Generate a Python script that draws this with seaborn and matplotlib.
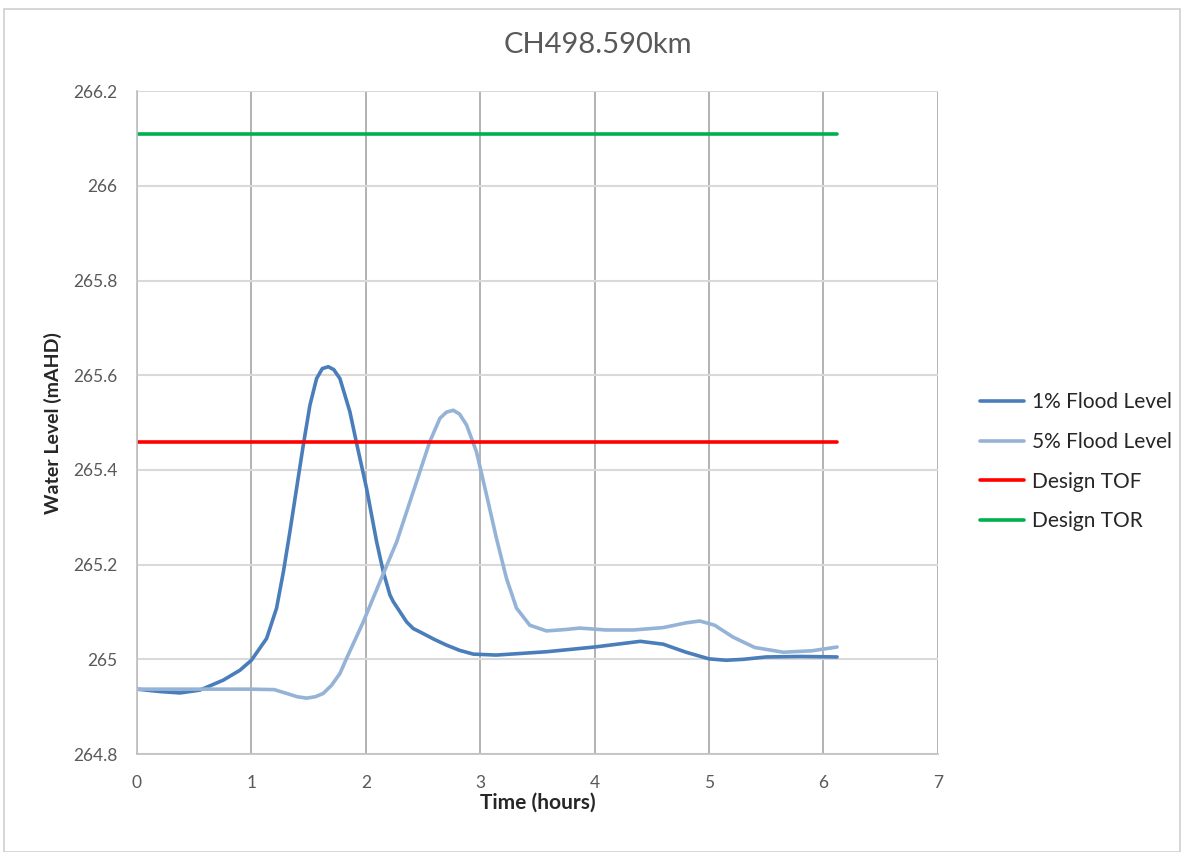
import matplotlib
matplotlib.use("Agg")
import matplotlib.pyplot as plt
import seaborn as sns
import pandas as pd
from matplotlib.patches import Rectangle

# ---- data ----
t_1pct = [0, 0.2, 0.376, 0.55, 0.754, 0.9, 1.0, 1.133, 1.22, 1.28, 1.337, 1.395,
          1.454, 1.512, 1.57, 1.62, 1.672, 1.72, 1.774, 1.861, 1.92, 2.007, 2.095,
          2.153, 2.211, 2.24, 2.357, 2.415, 2.473, 2.6, 2.706, 2.82, 2.94, 3.14,
          3.58, 4.0, 4.2, 4.4, 4.6, 4.8, 5.0, 5.15, 5.3, 5.5, 5.8, 6.12]
y_1pct = [264.937, 264.932, 264.929, 264.935, 264.956, 264.977, 264.998, 265.044,
          265.108, 265.185, 265.27, 265.361, 265.453, 265.537, 265.593, 265.614,
          265.618, 265.612, 265.593, 265.523, 265.456, 265.361, 265.248, 265.185,
          265.136, 265.122, 265.079, 265.065, 265.058, 265.042, 265.030, 265.019,
          265.011, 265.009, 265.016, 265.026, 265.032, 265.038, 265.032, 265.015,
          265.001, 264.998, 265.0, 265.005, 265.006, 265.005]

t_5pct = [0, 0.5, 1.0, 1.2, 1.308, 1.4, 1.483, 1.56, 1.628, 1.7, 1.774, 1.832,
          1.978, 2.124, 2.27, 2.415, 2.56, 2.648, 2.705, 2.765, 2.82, 2.881, 2.968,
          3.056, 3.143, 3.23, 3.318, 3.434, 3.58, 3.75, 3.87, 4.1, 4.34, 4.6, 4.8,
          4.92, 5.05, 5.21, 5.4, 5.65, 5.9, 6.12]
y_5pct = [264.937, 264.937, 264.937, 264.936, 264.928, 264.921, 264.918, 264.921,
          264.928, 264.945, 264.97, 265.002, 265.079, 265.164, 265.248, 265.354,
          265.46, 265.509, 265.522, 265.526, 265.518, 265.495, 265.438, 265.347,
          265.255, 265.171, 265.108, 265.072, 265.06, 265.063, 265.066, 265.062,
          265.062, 265.067, 265.077, 265.081, 265.072, 265.047, 265.025, 265.015,
          265.018, 265.026]

t_design = [0, 6.12]
tof_level = [265.46, 265.46]
tor_level = [266.11, 266.11]

series_names = ["1% Flood Level", "5% Flood Level", "Design TOF", "Design TOR"]
series_colors = ["#4a7ebb", "#95b3d7", "#ff0000", "#00b050"]

frames = [
    pd.DataFrame({"t": t_1pct, "y": y_1pct, "s": series_names[0]}),
    pd.DataFrame({"t": t_5pct, "y": y_5pct, "s": series_names[1]}),
    pd.DataFrame({"t": t_design, "y": tof_level, "s": series_names[2]}),
    pd.DataFrame({"t": t_design, "y": tor_level, "s": series_names[3]}),
]
df = pd.concat(frames, ignore_index=True)

sns.set_theme(style="white")
plt.rcParams["font.family"] = ["Lato", "DejaVu Sans"]

fig = plt.figure(figsize=(11.81, 8.52), dpi=100)
ax = fig.add_axes([0.116, 0.115, 0.678, 0.778])

sns.lineplot(data=df, x="t", y="y", hue="s", hue_order=series_names,
             palette=dict(zip(series_names, series_colors)), sort=False,
             estimator=None, linewidth=2.6, ax=ax)
for ln in ax.get_lines():
    ln.set_solid_joinstyle("round")
    ln.set_solid_capstyle("round")

ax.set_xlim(0, 7)
ax.set_ylim(264.8, 266.2)
ax.set_xticks(range(0, 8))
ax.set_yticks([264.8, 265.0, 265.2, 265.4, 265.6, 265.8, 266.0, 266.2])
ax.set_yticklabels(["264.8", "265", "265.2", "265.4", "265.6", "265.8", "266", "266.2"])
ax.tick_params(axis="both", length=0, labelsize=12.5, labelcolor="#595959")
ax.tick_params(axis="x", pad=15)
ax.tick_params(axis="y", pad=14)

ax.xaxis.grid(True, color="#a6a6a6", linewidth=1.2)
ax.yaxis.grid(True, color="#d9d9d9", linewidth=1.5)
ax.set_axisbelow(True)
for side in ["top", "right"]:
    ax.spines[side].set_visible(False)
for side in ["left", "bottom"]:
    ax.spines[side].set_color("#bfbfbf")
    ax.spines[side].set_linewidth(1.2)

ax.set_xlabel("Time (hours)", fontsize=15, fontweight="bold", labelpad=1)
ax.set_ylabel("Water Level (mAHD)", fontsize=14, fontweight="bold", labelpad=8)
fig.text(0.506, 1 - 45 / 852, "CH498.590km", fontsize=21, color="#595959",
         ha="center", va="center")

leg = ax.legend(loc="center left", bbox_to_anchor=(1.03, 0.441), frameon=False,
                fontsize=15, handlelength=2.1, handletextpad=0.35, labelspacing=0.95)
for line in leg.get_lines():
    line.set_linewidth(2.6)

fig.patches.append(Rectangle((0.003, 0.0), 0.996, 0.99, transform=fig.transFigure,
                             fill=False, edgecolor="#d0d0d0", linewidth=1.2))

fig.savefig("out.png", dpi=100)
